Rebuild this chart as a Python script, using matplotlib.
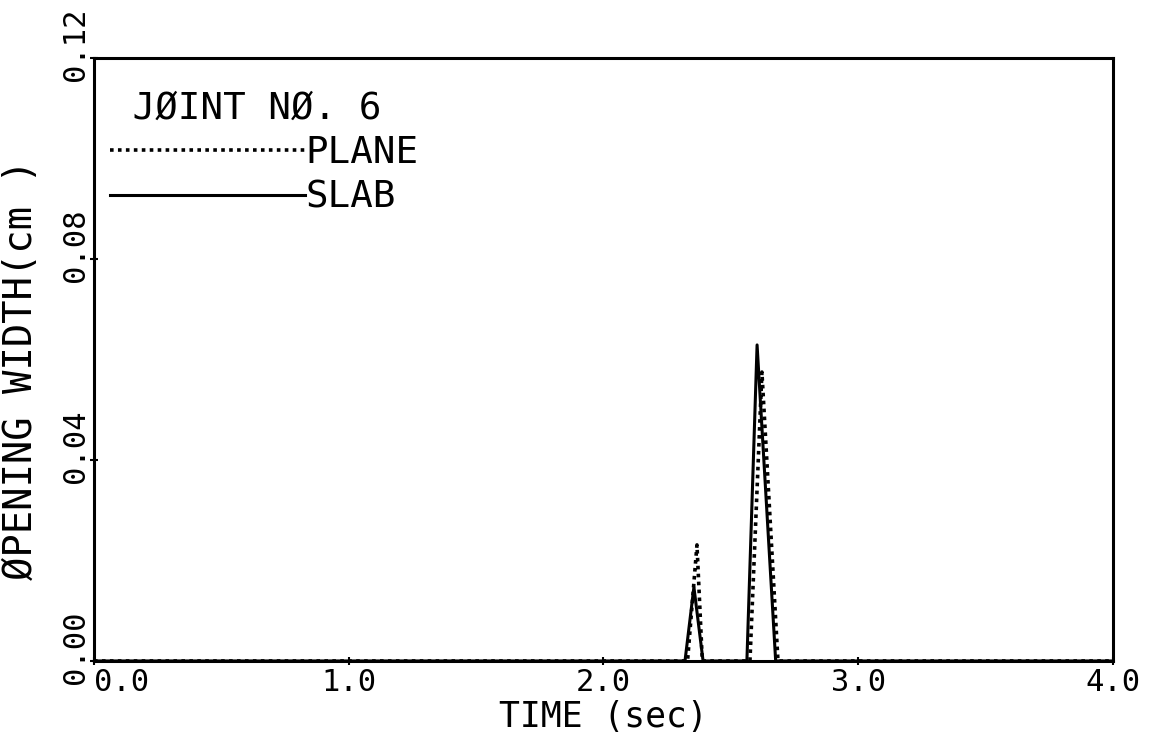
import matplotlib
matplotlib.use("Agg")
import matplotlib.pyplot as plt
from matplotlib.transforms import ScaledTranslation

# Opening width of joint no. 6 (breakpoints)
plane_t = [0.0, 2.330, 2.367, 2.388, 2.575, 2.622, 2.685, 4.0]
plane_w = [0.0, 0.0, 0.0231, 0.0, 0.0, 0.0575, 0.0, 0.0]
slab_t = [0.0, 2.320, 2.355, 2.391, 2.563, 2.603, 2.676, 4.0]
slab_w = [0.0, 0.0, 0.0147, 0.0, 0.0, 0.0629, 0.0, 0.0]

xticks = [0.0, 1.0, 2.0, 3.0, 4.0]
xlabels = ["0.0", "1.0", "2.0", "3.0", "4.0"]
yticks = [0.0, 0.04, 0.08, 0.12]
ylabels = ["0.00", "0.04", "0.08", "0.12"]

font = "DejaVu Sans Mono"
plt.rcParams["font.family"] = font

fig = plt.figure(figsize=(11.52, 7.42), dpi=100)
ax = fig.add_axes([0.0816, 0.1092, 0.8845, 0.8126])

ax.plot(plane_t, plane_w, color="k", linestyle=(0, (1, 1.2)), linewidth=2.6,
        label="PLANE")
ax.plot(slab_t, slab_w, color="k", linestyle="-", linewidth=2.2,
        label="SLAB")

ax.set_xlim(0, 4.0)
ax.set_ylim(0, 0.12)

for s in ax.spines.values():
    s.set_linewidth(2.2)

# x ticks
ax.set_xticks(xticks, xlabels, fontsize=22)
ax.tick_params(axis="x", direction="inout", length=6, width=1.5, pad=2)
ax.get_xticklabels()[0].set_ha("left")

# y ticks, rotated and nudged up like the plotter output
ax.set_yticks(yticks, ylabels, fontsize=22, rotation=90, va="center")
ax.tick_params(axis="y", direction="inout", length=6, width=1.5, pad=0)
shift = ScaledTranslation(0, 10 / 72, fig.dpi_scale_trans)
for lab in ax.get_yticklabels():
    lab.set_transform(lab.get_transform() + shift)

ax.set_xlabel("TIME (sec)", fontsize=25, labelpad=2)
ax.set_ylabel("ØPENING WIDTH(cm )", fontsize=28)
ax.yaxis.set_label_coords(-0.053, 0.483)

leg = ax.legend(loc="upper left", bbox_to_anchor=(0.0157, 0.945),
                title=" JØINT NØ. 6", alignment="left", frameon=False,
                fontsize=27, title_fontsize=27, handlelength=5.2,
                handletextpad=0.0, labelspacing=0.22, borderpad=0,
                borderaxespad=0)

plt.savefig("out.png", dpi=100)
